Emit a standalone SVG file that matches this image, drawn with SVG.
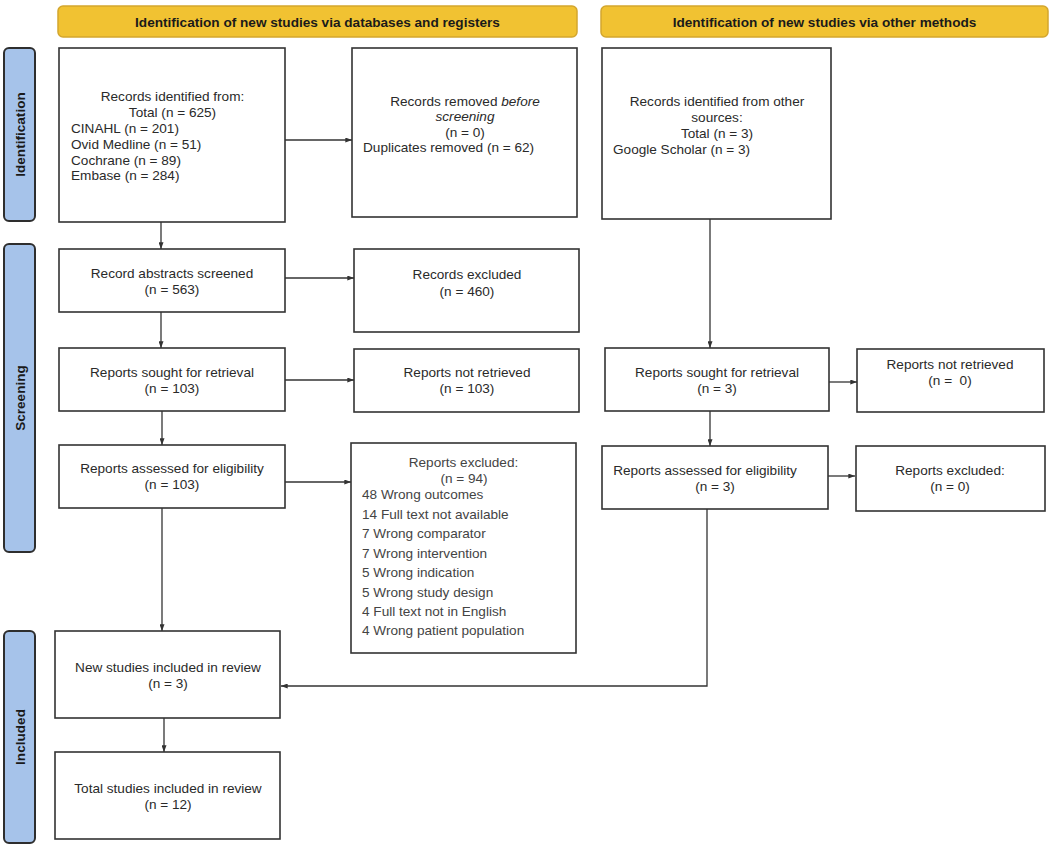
<svg xmlns="http://www.w3.org/2000/svg" width="1053" height="845" viewBox="0 0 1053 845">
<style>
text{font-family:"Liberation Sans",Arial,sans-serif;font-size:13.6px;fill:#2a2a2a}
.c{text-anchor:middle}
.b{font-weight:bold;fill:#1a1a1a}
.lst{fill:#444}
.box{fill:#fff;stroke:#333;stroke-width:1.6}
.ban{fill:#f1c232;stroke:#d3a62e;stroke-width:1.5}
.side{fill:#a6c3ea;stroke:#2e2e2e;stroke-width:2}
.con{fill:none;stroke:#333;stroke-width:1.3}
</style>
<defs>
<marker id="ah" viewBox="0 0 8 6" refX="8" refY="3" markerWidth="7" markerHeight="5" markerUnits="userSpaceOnUse" orient="auto">
<path d="M0,0 L8,3 L0,6 Z" fill="#333"/>
</marker>
</defs>
<rect width="1053" height="845" fill="#fff"/>

<g id="banner-left"><rect class="ban" x="58" y="6" width="519" height="31" rx="5"/><text class="c b" x="317.5" y="26.5">Identification of new studies via databases and registers</text></g>
<g id="banner-right"><rect class="ban" x="601" y="6" width="447" height="31" rx="5"/><text class="c b" x="824.5" y="26.5">Identification of new studies via other methods</text></g>

<g id="side-identification"><rect class="side" x="4" y="48" width="31" height="173" rx="5"/><text class="c b" font-size="13" transform="translate(24.5,134.5) rotate(-90)">Identification</text></g>
<g id="side-screening"><rect class="side" x="4" y="244" width="31" height="308" rx="5"/><text class="c b" font-size="13" transform="translate(24.5,398) rotate(-90)">Screening</text></g>
<g id="side-included"><rect class="side" x="4" y="631" width="31" height="212" rx="5"/><text class="c b" font-size="13" transform="translate(24.5,737) rotate(-90)">Included</text></g>

<g id="records-identified"><rect class="box" x="59" y="48" width="226" height="174"/>
<text class="c" x="172.5" y="101">Records identified from:</text>
<text class="c" x="172.5" y="117">Total (n = 625)</text>
<text x="71" y="133">CINAHL (n = 201)</text>
<text x="71" y="149">Ovid Medline (n = 51)</text>
<text x="71" y="164.5">Cochrane (n = 89)</text>
<text x="71" y="180">Embase (n = 284)</text></g>

<g id="records-removed"><rect class="box" x="352" y="48" width="225" height="169"/>
<text class="c" x="465" y="105.5">Records removed <tspan font-style="italic">before</tspan></text>
<text class="c" x="465" y="121" font-style="italic">screening</text>
<text class="c" x="465" y="136.5">(n = 0)</text>
<text x="363" y="152">Duplicates removed (n = 62)</text></g>

<g id="other-sources"><rect class="box" x="602" y="48" width="229" height="171"/>
<text class="c" x="717" y="106">Records identified from other</text>
<text class="c" x="717" y="122">sources:</text>
<text class="c" x="717" y="138">Total (n = 3)</text>
<text x="613" y="154">Google Scholar (n = 3)</text></g>

<g id="abstracts-screened"><rect class="box" x="59" y="249" width="226" height="63"/>
<text class="c" x="172" y="278">Record abstracts screened</text>
<text class="c" x="172" y="294">(n = 563)</text></g>

<g id="records-excluded"><rect class="box" x="354" y="249" width="225" height="83"/>
<text class="c" x="467" y="279">Records excluded</text>
<text class="c" x="467" y="295.5">(n = 460)</text></g>

<g id="sought-left"><rect class="box" x="59" y="348" width="226" height="63"/>
<text class="c" x="172" y="377">Reports sought for retrieval</text>
<text class="c" x="172" y="393">(n = 103)</text></g>

<g id="not-retrieved-left"><rect class="box" x="354" y="349" width="225" height="63"/>
<text class="c" x="467" y="377">Reports not retrieved</text>
<text class="c" x="467" y="393">(n = 103)</text></g>

<g id="sought-right"><rect class="box" x="605" y="348" width="224" height="63"/>
<text class="c" x="717" y="377">Reports sought for retrieval</text>
<text class="c" x="717" y="393">(n = 3)</text></g>

<g id="not-retrieved-right"><rect class="box" x="857" y="349" width="187" height="63"/>
<text class="c" x="950" y="369">Reports not retrieved</text>
<text class="c" x="950" y="385" xml:space="preserve">(n =  0)</text></g>

<g id="assessed-left"><rect class="box" x="59" y="445" width="226" height="63"/>
<text class="c" x="172" y="473">Reports assessed for eligibility</text>
<text class="c" x="172" y="489">(n = 103)</text></g>

<g id="reports-excluded-left"><rect class="box" x="351" y="443" width="225" height="210"/>
<text class="c lst" x="463.5" y="467">Reports excluded:</text>
<text class="c lst" x="464" y="483">(n = 94)</text>
<text class="lst" x="362" y="499">48 Wrong outcomes</text>
<text class="lst" x="362" y="518.5">14 Full text not available</text>
<text class="lst" x="362" y="538">7 Wrong comparator</text>
<text class="lst" x="362" y="557.5">7 Wrong intervention</text>
<text class="lst" x="362" y="577">5 Wrong indication</text>
<text class="lst" x="362" y="596.5">5 Wrong study design</text>
<text class="lst" x="362" y="616">4 Full text not in English</text>
<text class="lst" x="362" y="635">4 Wrong patient population</text></g>

<g id="assessed-right"><rect class="box" x="602" y="446" width="226" height="63"/>
<text class="c" x="705" y="475">Reports assessed for eligibility</text>
<text class="c" x="715" y="491">(n = 3)</text></g>

<g id="reports-excluded-right"><rect class="box" x="856" y="446" width="189" height="65"/>
<text class="c" x="950" y="475">Reports excluded:</text>
<text class="c" x="950" y="491">(n = 0)</text></g>

<g id="new-studies"><rect class="box" x="55" y="631" width="225" height="87"/>
<text class="c" x="168" y="672">New studies included in review</text>
<text class="c" x="168" y="688">(n = 3)</text></g>

<g id="total-studies"><rect class="box" x="55" y="752" width="225" height="87"/>
<text class="c" x="168" y="793">Total studies included in review</text>
<text class="c" x="168" y="809">(n = 12)</text></g>

<g id="connectors">
<line class="con" x1="285" y1="140" x2="352" y2="140" marker-end="url(#ah)"/>
<line class="con" x1="161" y1="222" x2="161" y2="249" marker-end="url(#ah)"/>
<line class="con" x1="285" y1="278" x2="354" y2="278" marker-end="url(#ah)"/>
<line class="con" x1="161" y1="312" x2="161" y2="348" marker-end="url(#ah)"/>
<line class="con" x1="285" y1="380" x2="354" y2="380" marker-end="url(#ah)"/>
<line class="con" x1="162" y1="411" x2="162" y2="445" marker-end="url(#ah)"/>
<line class="con" x1="285" y1="482" x2="351" y2="482" marker-end="url(#ah)"/>
<line class="con" x1="162" y1="508" x2="162" y2="631" marker-end="url(#ah)"/>
<line class="con" x1="164" y1="718" x2="164" y2="752" marker-end="url(#ah)"/>
<line class="con" x1="710" y1="219" x2="710" y2="348" marker-end="url(#ah)"/>
<line class="con" x1="829" y1="382" x2="857" y2="382" marker-end="url(#ah)"/>
<line class="con" x1="710" y1="411" x2="710" y2="446" marker-end="url(#ah)"/>
<line class="con" x1="828" y1="476" x2="855" y2="476" marker-end="url(#ah)"/>
<polyline class="con" points="707,509 707,686 281,686" marker-end="url(#ah)"/>
</g>
</svg>
